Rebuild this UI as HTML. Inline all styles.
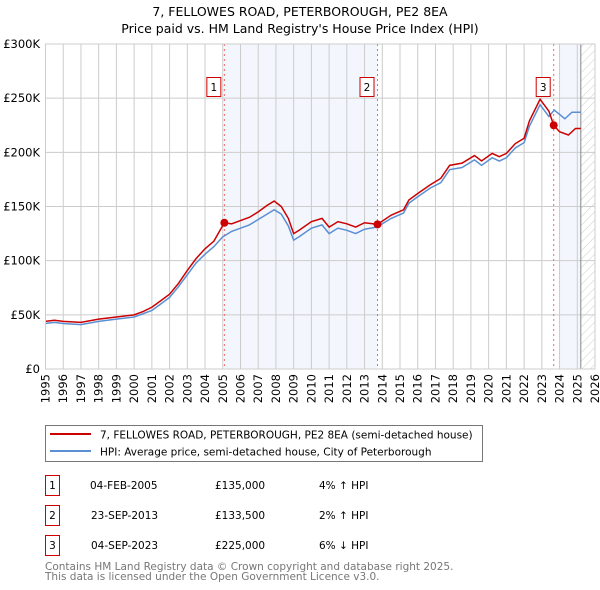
<!DOCTYPE html>
<html><head><meta charset="utf-8"><style>
body{margin:0;background:#fff;font-family:"DejaVu Sans","Liberation Sans",sans-serif;}
svg{display:block}
</style></head><body>
<svg id="chart" width="600" height="590" xmlns="http://www.w3.org/2000/svg" font-family="DejaVu Sans, Liberation Sans, sans-serif">
<defs><pattern id="hatch" width="6" height="6" patternUnits="userSpaceOnUse" patternTransform="rotate(45)"><line x1="0" y1="0" x2="0" y2="6" stroke="#ccc" stroke-width="1"/></pattern></defs>
<text x="300" y="16" text-anchor="middle" font-size="12.5">7, FELLOWES ROAD, PETERBOROUGH, PE2 8EA</text>
<text x="300" y="33" text-anchor="middle" font-size="12.5">Price paid vs. HM Land Registry's House Price Index (HPI)</text>
<g id="plot"></g>
<g>
<rect x="45.5" y="425.5" width="437" height="36" fill="#fff" stroke="#777"/>
<line x1="50" y1="434" x2="91" y2="434" stroke="#cc0000" stroke-width="2"/>
<text x="100" y="438.5" font-size="10.5">7, FELLOWES ROAD, PETERBOROUGH, PE2 8EA (semi-detached house)</text>
<line x1="50" y1="451" x2="91" y2="451" stroke="#5b8fd4" stroke-width="2"/>
<text x="100" y="455.5" font-size="10.5">HPI: Average price, semi-detached house, City of Peterborough</text>
</g>
<g font-size="10.5">
<rect x="45.5" y="475.5" width="14" height="20" fill="#fff" stroke="#cc0000"/><text x="52.5" y="489" text-anchor="middle">1</text>
<text x="90" y="489">04-FEB-2005</text><text x="215" y="489">£135,000</text><text x="319" y="489">4% ↑ HPI</text>
<rect x="45.5" y="505.5" width="14" height="20" fill="#fff" stroke="#cc0000"/><text x="52.5" y="519" text-anchor="middle">2</text>
<text x="91" y="519">23-SEP-2013</text><text x="215" y="519">£133,500</text><text x="319" y="519">2% ↑ HPI</text>
<rect x="45.5" y="535.5" width="14" height="20" fill="#fff" stroke="#cc0000"/><text x="52.5" y="549" text-anchor="middle">3</text>
<text x="91" y="549">04-SEP-2023</text><text x="215" y="549">£225,000</text><text x="319" y="549">6% ↓ HPI</text>
</g>
<text x="45" y="570" font-size="10.5" fill="#777">Contains HM Land Registry data © Crown copyright and database right 2025.</text>
<text x="45" y="580" font-size="10.5" fill="#777">This data is licensed under the Open Government Licence v3.0.</text>
</svg>
<script>
const hpiYears=[1995,1995.5,1996,1997,1998,1999,2000,2000.5,2001,2001.5,2002,2002.5,2003,2003.5,2004,2004.5,2005,2005.5,2006,2006.5,2007,2007.5,2007.9,2008.3,2008.7,2009.0,2009.3,2010,2010.6,2011,2011.5,2012,2012.5,2013,2013.7,2014.5,2015.2,2015.5,2016,2016.7,2017.3,2017.8,2018.5,2019.2,2019.6,2020.2,2020.6,2021,2021.5,2022,2022.3,2022.9,2023.4,2023.7,2024.3,2024.7,2025.2];
const hpiValues=[42,43,42,41,44,46,48,51,54,60,66,76,87,98,106,113,122,127,130,133,138,143,147,143,132,119,122,130,133,125,130,128,125,129,131,139,144,153,159,167,172,184,186,193,188,195,192,195,204,209,224,244,233,239,231,237,237];
const propYears=[1995,1995.5,1996,1997,1998,1999,2000,2000.5,2001,2001.5,2002,2002.5,2003,2003.5,2004,2004.5,2005.09,2005.5,2006,2006.5,2007,2007.5,2007.9,2008.3,2008.7,2009.0,2009.3,2010,2010.6,2011,2011.5,2012,2012.5,2013,2013.73,2014.5,2015.2,2015.5,2016,2016.7,2017.3,2017.8,2018.5,2019.2,2019.6,2020.2,2020.6,2021,2021.5,2022,2022.3,2022.9,2023.4,2023.67,2024.0,2024.5,2024.9,2025.2];
const propValues=[44,45,44,43,46,48,50,53,57,63,69,79,91,102,111,118,135,134,137,140,145,151,155,150,139,125,128,136,139,131,136,134,131,135,133.5,142,147,156,162,170,176,188,190,197,192,199,196,199,208,213,229,249,238,225,219,216,222,222];
const saleYears=[2005.09,2013.73,2023.67];
const salePrices=[135,133.5,225];
const yTicks=[0,50,100,150,200,250,300];
const yTickLabels=["£0","£50K","£100K","£150K","£200K","£250K","£300K"];
const xTicks=[];for(let y=1995;y<=2026;y++)xTicks.push(y);

const X0=45.5,X1=595,Y0=369,Y1=44;
const xs=y=>X0+(y-1995)/(2026-1995)*(X1-X0);
const ys=v=>Y0-v/300*(Y0-Y1);
const NS="http://www.w3.org/2000/svg";
const g=document.getElementById('plot');
function el(t,a,p){const e=document.createElementNS(NS,t);for(const k in a)e.setAttribute(k,a[k]);(p||g).appendChild(e);return e;}

let r=el('rect',{x:xs(saleYears[0]),y:Y1,width:xs(saleYears[1])-xs(saleYears[0]),height:Y0-Y1,fill:'#eef3fc',opacity:0.7});


r=el('rect',{x:xs(2024),y:Y1,width:xs(2025.2)-xs(2024),height:Y0-Y1,fill:'#eef3fc',opacity:0.7});


r=el('rect',{x:xs(2025.2),y:Y1,width:X1-xs(2025.2),height:Y0-Y1,fill:'url(#hatch)'});



xTicks.forEach(y=>{
 const l=el('line',{x1:xs(y),x2:xs(y),y1:Y1,y2:Y0,stroke:'#ccc','stroke-width':1});
 
 
 const tx=xs(y)+4,ty=374;
 const t=el('text',{x:tx,y:ty,'text-anchor':'end','font-size':11.5,transform:'rotate(-90 '+tx+' '+ty+')'});
 
 
 t.textContent=y;
});
yTicks.forEach((v,i)=>{
 const l=el('line',{x1:X0,x2:X1,y1:ys(v),y2:ys(v),stroke:'#ccc','stroke-width':1});
 
 
 const t=el('text',{x:40,y:ys(v)+4,'text-anchor':'end','font-size':11.5});
 
 
 t.textContent=yTickLabels[i];
});
let b=el('line',{x1:xs(2025.2),x2:xs(2025.2),y1:Y1,y2:Y0,stroke:'#888','stroke-width':1});



saleYears.forEach((y,i)=>{
 const l=el('line',{x1:xs(y),x2:xs(y),y1:Y1,y2:Y0,stroke:'#e66','stroke-width':1,'stroke-dasharray':'2,3'});
 
 
});

let hp=el('polyline',{points:hpiYears.map((y,i)=>xs(y)+','+ys(hpiValues[i])).join(' '),fill:'none',stroke:'#5b8fd4','stroke-width':1.5});


let pp=el('polyline',{points:propYears.map((y,i)=>xs(y)+','+ys(propValues[i])).join(' '),fill:'none',stroke:'#cc0000','stroke-width':1.5});



saleYears.forEach((y,i)=>{
 const c=el('circle',{cx:xs(y),cy:ys(salePrices[i]),r:4,fill:'#cc0000'});
 
 
 const bx=el('rect',{x:xs(y)-17.5,y:77.5,width:14,height:19,fill:'#fff',stroke:'#cc0000'});
 
 
 const t=el('text',{x:xs(y)-10.5,y:91,'text-anchor':'middle','font-size':10.5});
 
 
 t.textContent=i+1;
});
let fr=el('rect',{x:X0,y:Y1,width:X1-X0,height:Y0-Y1,fill:'none',stroke:'#ccc'});


</script>
</body></html>
